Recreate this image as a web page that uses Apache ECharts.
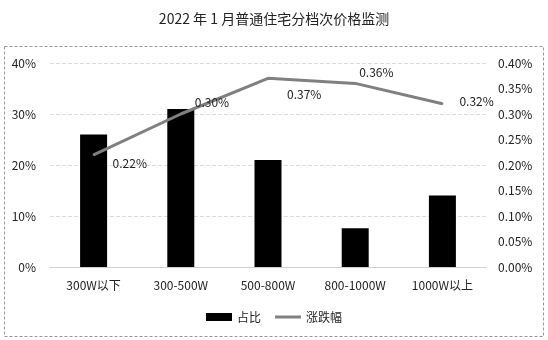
<!DOCTYPE html>
<html><head><meta charset="utf-8">
<script src="https://cdn.jsdelivr.net/npm/echarts@6/dist/echarts.min.js"></script>
<style>html,body{margin:0;padding:0;background:#fff}#c{width:548px;height:340px}</style>
</head><body><div id="c"></div>
<script>
var categories = ['300W以下', '300-500W', '500-800W', '800-1000W', '1000W以上'];
var shareValues = [26, 31, 21, 7.6, 14];
var changeValues = [0.22, 0.30, 0.37, 0.36, 0.32];
var leftTicks = [0, 10, 20, 30, 40];
var rightTicks = [0, 0.05, 0.10, 0.15, 0.20, 0.25, 0.30, 0.35, 0.40];

var labelOffsets = [[18, 9], [13, -12], [18, 16], [3, -11], [16, -2]];
var font = '"Noto Sans CJK SC", "Noto Sans", sans-serif';
var chart = echarts.init(document.getElementById('c'));
chart.setOption({
  animation: false,
  textStyle: { fontFamily: font },
  title: { text: '2022 年 1 月普通住宅分档次价格监测', left: 'center', top: 7,
    textStyle: { fontSize: 14, fontWeight: 'normal', color: '#222', fontFamily: font } },
  graphic: [{ type: 'rect', shape: { x: 4.5, y: 46.5, width: 539, height: 290 },
    style: { fill: 'none', stroke: '#999', lineWidth: 1, lineDash: [3, 2] }, silent: true }],
  legend: { bottom: 12, itemGap: 14, itemWidth: 26, itemHeight: 8,
    textStyle: { fontSize: 12, color: '#222', fontFamily: font },
    data: [{ name: '占比', icon: 'rect' },
           { name: '涨跌幅', icon: 'path://M0,0h26v3h-26z', itemStyle: { color: '#808080', opacity: 1 } }] },
  grid: { left: 50, right: 62, top: 63, bottom: 73 },
  xAxis: { type: 'category', data: categories,
    axisLine: { lineStyle: { color: '#d0d0d0' } }, axisTick: { show: false },
    axisLabel: { fontSize: 12, color: '#222', margin: 12 } },
  yAxis: [
    { type: 'value', min: leftTicks[0], max: leftTicks[leftTicks.length - 1], interval: 10,
      axisLabel: { fontSize: 12, color: '#222', margin: 14, formatter: function (v) { return v + '%'; } },
      splitLine: { lineStyle: { color: '#dcdcdc', type: 'dashed' } },
      axisLine: { show: false }, axisTick: { show: false } },
    { type: 'value', min: rightTicks[0], max: rightTicks[rightTicks.length - 1], interval: 0.05,
      axisLabel: { fontSize: 12, color: '#222', margin: 12, formatter: function (v) { return v.toFixed(2) + '%'; } },
      splitLine: { show: false }, axisLine: { show: false }, axisTick: { show: false } }
  ],
  series: [
    { name: '涨跌幅', type: 'line', yAxisIndex: 1, symbol: 'circle', symbolSize: 2, showSymbol: true, z: 3,
      lineStyle: { color: '#808080', width: 3 }, itemStyle: { color: '#808080' },
      label: { show: true, position: 'right', distance: 0, fontSize: 12, color: '#222',
        formatter: function (p) { return p.value.toFixed(2) + '%'; } },
      data: changeValues.map(function (v, i) {
        return { value: v, label: { offset: labelOffsets[i] } };
      }) },
    { name: '占比', type: 'bar', data: shareValues, barWidth: 27, z: 2, itemStyle: { color: '#000' } }
  ]
});
</script></body></html>
